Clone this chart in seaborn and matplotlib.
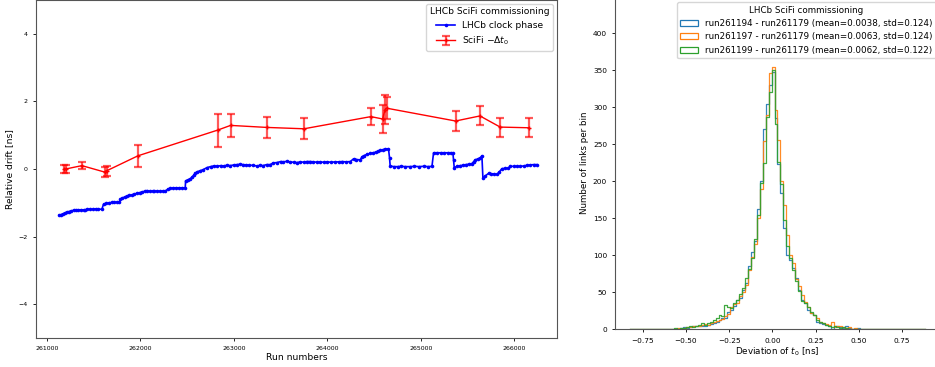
import numpy as np
import pandas as pd
import matplotlib
matplotlib.use("Agg")
import matplotlib.pyplot as plt
import seaborn as sns
from matplotlib.patches import Patch

# ---------------- data: left panel ----------------
clock_runs = [261130, 261150, 261170, 261190, 261210, 261235, 261260, 261285, 261310, 261335,
              261360, 261392, 261410, 261428, 261460, 261490, 261520, 261550, 261588, 261605,
              261630, 261660, 261695, 261720, 261750, 261776, 261784, 261805, 261830, 261856,
              261880, 261905, 261935, 261963, 261990, 262020, 262045, 262070, 262100, 262130,
              262150, 262176, 262210, 262240, 262265, 262290, 262319, 262350, 262380, 262410,
              262440, 262479, 262483, 262510, 262530, 262551, 262570, 262586, 262610, 262640,
              262670, 262711, 262750, 262782, 262820, 262860, 262890, 262925, 262960, 263000,
              263030, 263067, 263100, 263130, 263160, 263200, 263246, 263280, 263310, 263350,
              263388, 263420, 263460, 263500, 263530, 263567, 263600, 263640, 263674, 263710,
              263750, 263780, 263816, 263850, 263890, 263920, 263958, 264000, 264040, 264080,
              264120, 264160, 264200, 264244, 264279, 264310, 264351, 264370, 264386, 264420,
              264458, 264490, 264520, 264545, 264565, 264590, 264620, 264653, 264664, 264671,
              264710, 264750, 264790, 264830, 264885, 264930, 264980, 265030, 265080, 265118,
              265135, 265170, 265210, 265250, 265290, 265320, 265342, 265349, 265356, 265385,
              265420, 265450, 265480, 265510, 265545, 265565, 265580, 265610, 265635, 265652,
              265663, 265690, 265723, 265750, 265780, 265813, 265840, 265866, 265900, 265930,
              265955, 265990, 266030, 266062, 266100, 266134, 266170, 266205, 266240]
clock_phase = [-1.37, -1.35, -1.33, -1.30, -1.28, -1.26, -1.24, -1.22, -1.22, -1.21,
               -1.21, -1.21, -1.22, -1.19, -1.19, -1.19, -1.18, -1.19, -1.19, -1.04,
               -1.02, -1.00, -0.99, -0.99, -0.98, -0.98, -0.90, -0.86, -0.83, -0.80,
               -0.78, -0.77, -0.74, -0.72, -0.70, -0.68, -0.66, -0.64, -0.66, -0.65,
               -0.66, -0.65, -0.66, -0.65, -0.66, -0.60, -0.57, -0.56, -0.56, -0.56,
               -0.56, -0.56, -0.35, -0.32, -0.29, -0.25, -0.18, -0.13, -0.08, -0.05,
               -0.02, 0.04, 0.07, 0.09, 0.08, 0.10, 0.09, 0.11, 0.10, 0.12,
               0.13, 0.14, 0.13, 0.12, 0.11, 0.11, 0.09, 0.11, 0.10, 0.13,
               0.13, 0.18, 0.19, 0.22, 0.21, 0.23, 0.21, 0.20, 0.19, 0.21,
               0.20, 0.22, 0.22, 0.21, 0.20, 0.21, 0.20, 0.21, 0.20, 0.21,
               0.21, 0.22, 0.21, 0.22, 0.30, 0.28, 0.27, 0.36, 0.39, 0.43,
               0.46, 0.48, 0.50, 0.53, 0.55, 0.57, 0.59, 0.60, 0.33, 0.09,
               0.07, 0.07, 0.08, 0.07, 0.07, 0.08, 0.07, 0.08, 0.07, 0.08,
               0.48, 0.48, 0.48, 0.48, 0.48, 0.48, 0.47, 0.27, 0.04, 0.08,
               0.10, 0.11, 0.13, 0.14, 0.16, 0.22, 0.27, 0.30, 0.33, 0.39,
               -0.28, -0.20, -0.13, -0.14, -0.15, -0.16, -0.08, 0.01, 0.02, 0.02,
               0.08, 0.08, 0.08, 0.08, 0.09, 0.11, 0.12, 0.13, 0.13]

t0_runs = [261185, 261200, 261374, 261616, 261641, 261973, 262825, 262964, 263353,
           263749, 264465, 264590, 264615, 264632, 265370, 265631, 265848, 266152]
t0_vals = [0.0, 0.0, 0.10, -0.09, -0.05, 0.39, 1.15, 1.29, 1.23,
           1.19, 1.55, 1.48, 1.75, 1.80, 1.42, 1.57, 1.24, 1.22]
t0_errs = [0.11, 0.11, 0.11, 0.14, 0.15, 0.32, 0.49, 0.35, 0.32,
           0.31, 0.25, 0.41, 0.43, 0.33, 0.29, 0.28, 0.28, 0.28]

# ---------------- data: right panel (counts per bin) ----------------
bin_lo, bin_hi, n_bins = -0.823, 0.883, 100
counts_194 = [0, 0, 0, 0, 0, 0, 0, 0, 0, 0,
              0, 0, 0, 0, 1, 0, 1, 2, 3, 2,
              3, 4, 5, 4, 5, 5, 6, 7, 9, 10,
              13, 15, 15, 24, 26, 31, 39, 42, 53, 62,
              85, 105, 120, 162, 200, 271, 304, 330, 348, 285,
              224, 184, 137, 101, 94, 83, 69, 53, 40, 35,
              26, 22, 19, 10, 9, 7, 6, 5, 0, 4,
              5, 3, 2, 4, 2, 1, 1, 2, 0, 1,
              0, 0, 0, 0, 1, 0, 0, 0, 0, 0,
              0, 0, 0, 0, 0, 0, 0, 0, 0, 0]
counts_197 = [0, 0, 0, 0, 0, 0, 0, 0, 0, 0,
              0, 1, 0, 0, 0, 1, 2, 1, 2, 3,
              3, 4, 4, 5, 6, 7, 6, 8, 10, 11,
              12, 14, 18, 21, 30, 34, 36, 45, 50, 60,
              80, 98, 115, 150, 190, 255, 290, 347, 355, 296,
              256, 200, 168, 128, 100, 90, 68, 58, 46, 37,
              30, 22, 20, 15, 10, 8, 7, 6, 10, 3,
              4, 4, 3, 2, 3, 1, 2, 1, 0, 1,
              0, 0, 0, 0, 0, 0, 0, 0, 0, 0,
              0, 0, 0, 0, 0, 0, 0, 0, 0, 0]
counts_199 = [0, 0, 0, 0, 0, 0, 0, 0, 0, 0,
              0, 0, 0, 1, 1, 2, 1, 2, 2, 3,
              4, 3, 5, 6, 8, 6, 9, 10, 12, 15,
              20, 18, 33, 30, 29, 36, 40, 48, 56, 70,
              82, 96, 122, 155, 198, 225, 287, 320, 350, 278,
              226, 196, 148, 113, 97, 80, 65, 52, 38, 36,
              30, 24, 20, 13, 10, 8, 6, 4, 3, 5,
              3, 2, 3, 2, 1, 1, 1, 0, 1, 0,
              0, 0, 0, 0, 0, 0, 0, 0, 1, 0,
              0, 0, 0, 0, 0, 0, 0, 0, 0, 0]
hist_labels = ["run261194 - run261179 (mean=0.0038, std=0.124)",
               "run261197 - run261179 (mean=0.0063, std=0.124)",
               "run261199 - run261179 (mean=0.0062, std=0.122)"]
hist_colors = ["#1f77b4", "#ff7f0e", "#2ca02c"]

# ---------------- figure ----------------
plt.rcParams["font.family"] = ["DejaVu Sans"]
fig = plt.figure(figsize=(9.35, 3.67), dpi=100)
ax1 = fig.add_axes([0.0382, 0.079, 0.5575, 0.921])
ax2 = fig.add_axes([0.6582, 0.1027, 0.3467, 0.9074])

# left panel
sns.lineplot(x=clock_runs, y=clock_phase, ax=ax1, color="blue", marker="o",
             markersize=2.6, markeredgewidth=0, linewidth=1.2, sort=False,
             estimator=None, label="LHCb clock phase")
ax1.errorbar(t0_runs, t0_vals, yerr=t0_errs, fmt="+-", color="red",
             ecolor=(1, 0, 0, 0.65), elinewidth=1.6, capsize=3.2, capthick=1.6,
             markersize=3, linewidth=1, label=r"SciFi $-\Delta t_0$")
ax1.set_xlim(260880, 266455)
ax1.set_ylim(-5, 5)
ax1.set_yticks([-4, -2, 0, 2, 4])
ax1.set_xticks([261000, 262000, 263000, 264000, 265000, 266000])
ax1.tick_params(labelsize=4.5, length=2.5, width=0.6)
ax1.set_xlabel("Run numbers", fontsize=6.6, labelpad=1)
ax1.set_ylabel("Relative drift [ns]", fontsize=6.6, labelpad=3)
ax1.legend(title="LHCb SciFi commissioning", loc="upper right",
           fontsize=6.6, title_fontsize=6.6, borderaxespad=0.4)

# right panel
edges = np.linspace(bin_lo, bin_hi, n_bins + 1)
centers = 0.5 * (edges[:-1] + edges[1:])
for cnt, col in zip([counts_194, counts_197, counts_199], hist_colors):
    df = pd.DataFrame({"dev": centers, "n": np.asarray(cnt, dtype=float)})
    sns.histplot(data=df, x="dev", weights="n", bins=n_bins,
                 binrange=(bin_lo, bin_hi), element="step", fill=False,
                 color=col, linewidth=0.9, alpha=0.9, ax=ax2)
ax2.set_xlim(-0.908, 0.968)
ax2.set_ylim(0, 450)
ax2.set_xticks([-0.75, -0.5, -0.25, 0, 0.25, 0.5, 0.75])
ax2.set_yticks([0, 50, 100, 150, 200, 250, 300, 350, 400])
ax2.tick_params(labelsize=5.3, length=2.5, width=0.6)
ax2.set_xlabel(r"Deviation of $t_0$ [ns]", fontsize=6.3, labelpad=1)
ax2.set_ylabel("Number of links per bin", fontsize=6.3, labelpad=3)
handles = [Patch(facecolor="none", edgecolor=c, linewidth=0.9) for c in hist_colors]
ax2.legend(handles, hist_labels, title="LHCb SciFi commissioning",
           loc="upper right", bbox_to_anchor=(0.9965, 0.99), fontsize=6.3,
           title_fontsize=6.3, borderaxespad=0.3)

for ax in (ax1, ax2):
    for s in ax.spines.values():
        s.set_linewidth(0.8)
        s.set_color("#555555")

fig.savefig("out.png", dpi=100)
